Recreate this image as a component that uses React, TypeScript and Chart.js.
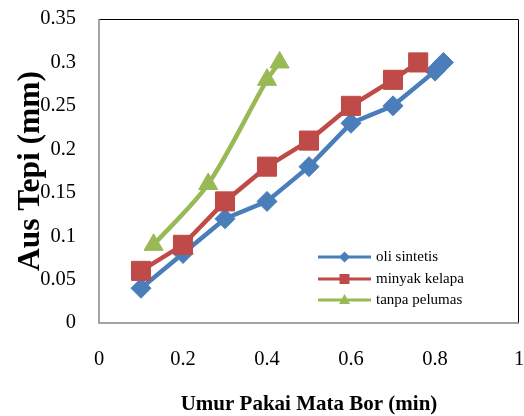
import React, { useEffect, useRef } from "react";
import { Chart, registerables } from "chart.js";

Chart.register(...registerables);

const seriesLabels = ["oli sintetis", "minyak kelapa", "tanpa pelumas"];
const oliX = [0.1, 0.2, 0.3, 0.4, 0.5, 0.6, 0.7, 0.8, 0.82];
const oliY = [0.04, 0.08, 0.12, 0.14, 0.18, 0.23, 0.25, 0.29, 0.3];
const minyakX = [0.1, 0.2, 0.3, 0.4, 0.5, 0.6, 0.7, 0.76];
const minyakY = [0.06, 0.09, 0.14, 0.18, 0.21, 0.25, 0.28, 0.3];
const tanpaX = [0.13, 0.26, 0.4, 0.43];
const tanpaY = [0.09, 0.16, 0.28, 0.3];
const xTickLabels = ["0", "0.2", "0.4", "0.6", "0.8", "1"];
const yTickLabels = ["0", "0.05", "0.1", "0.15", "0.2", "0.25", "0.3", "0.35"];
const xTitle = "Umur Pakai Mata Bor (min)";
const yTitle = "Aus Tepi (mm)";

const BLUE = "#4A7EBB";
const RED = "#BE4B48";
const GREEN = "#98B954";
const FONT = "'Liberation Serif', 'Times New Roman', serif";

const toPoints = (xs: number[], ys: number[]) => xs.map((x, i) => ({ x, y: ys[i] }));

const frameAndLegend = {
  id: "frameAndLegend",
  afterDatasetsDraw(chart: any) {
    const { ctx, chartArea } = chart;
    const { left, right, top, bottom } = chartArea;
    ctx.save();
    ctx.lineWidth = 1;
    ctx.strokeStyle = "#000";
    ctx.beginPath();
    ctx.moveTo(left, top + 0.5);
    ctx.lineTo(right - 0.5, top + 0.5);
    ctx.lineTo(right - 0.5, bottom);
    ctx.stroke();
    ctx.strokeStyle = "#868686";
    ctx.lineWidth = 1.5;
    ctx.beginPath();
    ctx.moveTo(left, top);
    ctx.lineTo(left, bottom);
    ctx.lineTo(right, bottom);
    ctx.stroke();

    // legend
    const rows = [257, 279, 300];
    const x0 = 318;
    const x1 = 371;
    chart.data.datasets.forEach((ds: any, i: number) => {
      const y = rows[i];
      ctx.strokeStyle = ds.borderColor;
      ctx.lineWidth = 3;
      ctx.beginPath();
      ctx.moveTo(x0, y);
      ctx.lineTo(x1, y);
      ctx.stroke();
      ctx.fillStyle = ds.pointBackgroundColor;
      const cx = (x0 + x1) / 2;
      const s = ds.pointStyle;
      ctx.beginPath();
      if (s === "rectRot") {
        ctx.moveTo(cx, y - 5.5);
        ctx.lineTo(cx + 5.5, y);
        ctx.lineTo(cx, y + 5.5);
        ctx.lineTo(cx - 5.5, y);
        ctx.closePath();
      } else if (s === "rect") {
        ctx.rect(cx - 5, y - 5, 10, 10);
      } else {
        ctx.moveTo(cx, y - 6);
        ctx.lineTo(cx + 5.5, y + 4);
        ctx.lineTo(cx - 5.5, y + 4);
        ctx.closePath();
      }
      ctx.fill();
      ctx.fillStyle = "#000";
      ctx.font = `15px ${FONT}`;
      ctx.textBaseline = "middle";
      ctx.textAlign = "left";
      ctx.fillText(ds.label, 376, y);
    });
    ctx.restore();
  },
};

export default function App() {
  const ref = useRef<HTMLCanvasElement>(null);
  useEffect(() => {
    if (!ref.current) return;
    const chart = new Chart(ref.current, {
      type: "line",
      data: {
        datasets: [
          {
            label: seriesLabels[0],
            data: toPoints(oliX, oliY),
            borderColor: BLUE,
            backgroundColor: BLUE,
            pointBackgroundColor: BLUE,
            pointBorderColor: BLUE,
            borderWidth: 4.5,
            pointStyle: "rectRot",
            pointRadius: 10,
            pointBorderWidth: 1,
            tension: 0,
            order: 3,
          },
          {
            label: seriesLabels[1],
            data: toPoints(minyakX, minyakY),
            borderColor: RED,
            backgroundColor: RED,
            pointBackgroundColor: RED,
            pointBorderColor: RED,
            borderWidth: 4.5,
            pointStyle: "rect",
            pointRadius: 13.5,
            pointBorderWidth: 1,
            tension: 0,
            order: 2,
          },
          {
            label: seriesLabels[2],
            data: toPoints(tanpaX, tanpaY),
            borderColor: GREEN,
            backgroundColor: GREEN,
            pointBackgroundColor: GREEN,
            pointBorderColor: GREEN,
            borderWidth: 4.5,
            pointStyle: "triangle",
            pointRadius: 11,
            pointBorderWidth: 1,
            tension: 0.3,
            order: 1,
          },
        ],
      },
      options: {
        animation: false,
        responsive: false,
        devicePixelRatio: 1,
        layout: { autoPadding: false, padding: { left: 0, top: 19, right: 5, bottom: 0 } },
        plugins: { legend: { display: false }, tooltip: { enabled: false } },
        scales: {
          x: {
            type: "linear",
            min: 0,
            max: 1,
            afterFit: (s: any) => {
              s.height = 93;
              s.paddingLeft = 0;
              s.paddingRight = 0;
            },
            afterBuildTicks: (s: any) => {
              s.ticks = xTickLabels.map((_, i) => ({ value: i * 0.2 }));
            },
            grid: { display: false, drawTicks: false },
            border: { display: false },
            ticks: {
              padding: 24,
              maxRotation: 0,
              color: "#000",
              font: { family: FONT, size: 20.5 },
              callback: (_v: any, i: number) => xTickLabels[i],
            },
            title: {
              display: true,
              text: xTitle,
              color: "#000",
              font: { family: FONT, size: 21, weight: "bold", lineHeight: 1 },
              padding: { top: 0, bottom: 1 },
            },
          },
          y: {
            type: "linear",
            min: 0,
            max: 0.35,
            afterFit: (s: any) => {
              s.width = 99;
              s.paddingTop = 0;
              s.paddingBottom = 0;
            },
            afterBuildTicks: (s: any) => {
              s.ticks = yTickLabels.map((_, i) => ({ value: i * 0.05 }));
            },
            grid: { display: false, drawTicks: false },
            border: { display: false },
            ticks: {
              padding: 23,
              color: "#000",
              font: { family: FONT, size: 20.5 },
              callback: (_v: any, i: number) => yTickLabels[i],
            },
            title: {
              display: true,
              text: yTitle,
              color: "#000",
              font: { family: FONT, size: 31.5, weight: "bold", lineHeight: 1.2 },
              padding: { top: 12, bottom: 0 },
            },
          },
        },
      },
      plugins: [frameAndLegend],
    });
    return () => chart.destroy();
  }, []);
  return (
    <div style={{ position: "fixed", left: 0, top: 0, width: 524, height: 416, background: "#fff" }}>
      <canvas ref={ref} width={524} height={416} style={{ width: 524, height: 416, display: "block" }} />
    </div>
  );
}
